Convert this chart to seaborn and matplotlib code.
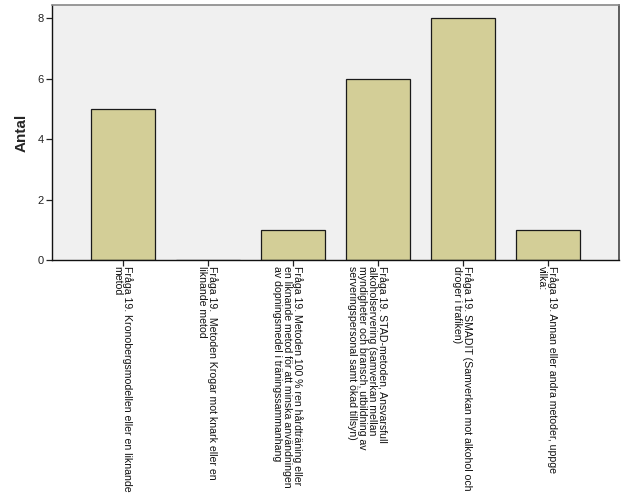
import matplotlib
matplotlib.use("Agg")
import matplotlib.pyplot as plt
import matplotlib.transforms as mtransforms
import seaborn as sns
import pandas as pd

categories = [
    "Fråga 19. Kronobergsmodellen eller en liknande\nmetod",
    "Fråga 19.  Metoden Krogar mot knark eller en\nliknande metod",
    "Fråga 19. Metoden 100 % ren hårdträning eller\nen liknande metod för att minska användningen\nav dopningsmedel i träningssammanhang",
    "Fråga 19. STAD-metoden, Ansvarsfull\nalkoholservering (samverkan mellan\nmyndigheter och bransch, utbildning av\nserveringspersonal samt ökad tillsyn)",
    "Fråga 19. SMADIT (Samverkan mot alkohol och\ndroger i trafiken)",
    "Fråga 19. Annan eller andra metoder, uppge\nvilka:",
]
values = [5, 0, 1, 6, 8, 1]
yticks = [0, 2, 4, 6, 8]

sns.set_style("white")
plt.rcParams["font.family"] = ["Liberation Sans", "DejaVu Sans"]

df = pd.DataFrame({"cat": categories, "val": values})

fig = plt.figure(figsize=(6.26, 5.01), dpi=100)
ax = fig.add_axes([52/626, 1-260/501, (619-52)/626, (260-5)/501])
ax.set_facecolor("#f0f0f0")

sns.barplot(data=df, x="cat", y="val", color="#d3ce97", saturation=1,
            edgecolor="#1a1a1a", linewidth=0.9, width=0.75, ax=ax)

ax.set_xlim(-0.835, 5.835)
ax.set_ylim(0, 8.43)
ax.set_yticks(yticks)
ax.set_yticklabels([str(v) for v in yticks], fontsize=8, color="#222222")
ax.set_xticks(range(len(categories)))
ax.set_xticklabels([""] * len(categories))

offset = mtransforms.ScaledTranslation(10/100, -6/100, fig.dpi_scale_trans)
trans = ax.get_xaxis_transform() + offset
for i, cat in enumerate(categories):
    ax.text(i, 0, cat, transform=trans, rotation=-90, ha="right", va="top",
            fontsize=7.6, color="#111111", linespacing=1.0,
            multialignment="left")

ax.tick_params(axis="both", direction="out", length=4, width=0.9, color="#222222",
               left=True, bottom=True, pad=2)
ax.set_xlabel("")
ax.set_ylabel("Antal", fontsize=11, fontweight="bold", labelpad=6)

for side in ["left", "bottom"]:
    ax.spines[side].set_color("#111111")
    ax.spines[side].set_linewidth(1.0)
ax.spines["top"].set_color("#888888")
ax.spines["top"].set_linewidth(1.2)
ax.spines["right"].set_color("#444444")
ax.spines["right"].set_linewidth(1.2)

fig.savefig("out.png", dpi=100)
